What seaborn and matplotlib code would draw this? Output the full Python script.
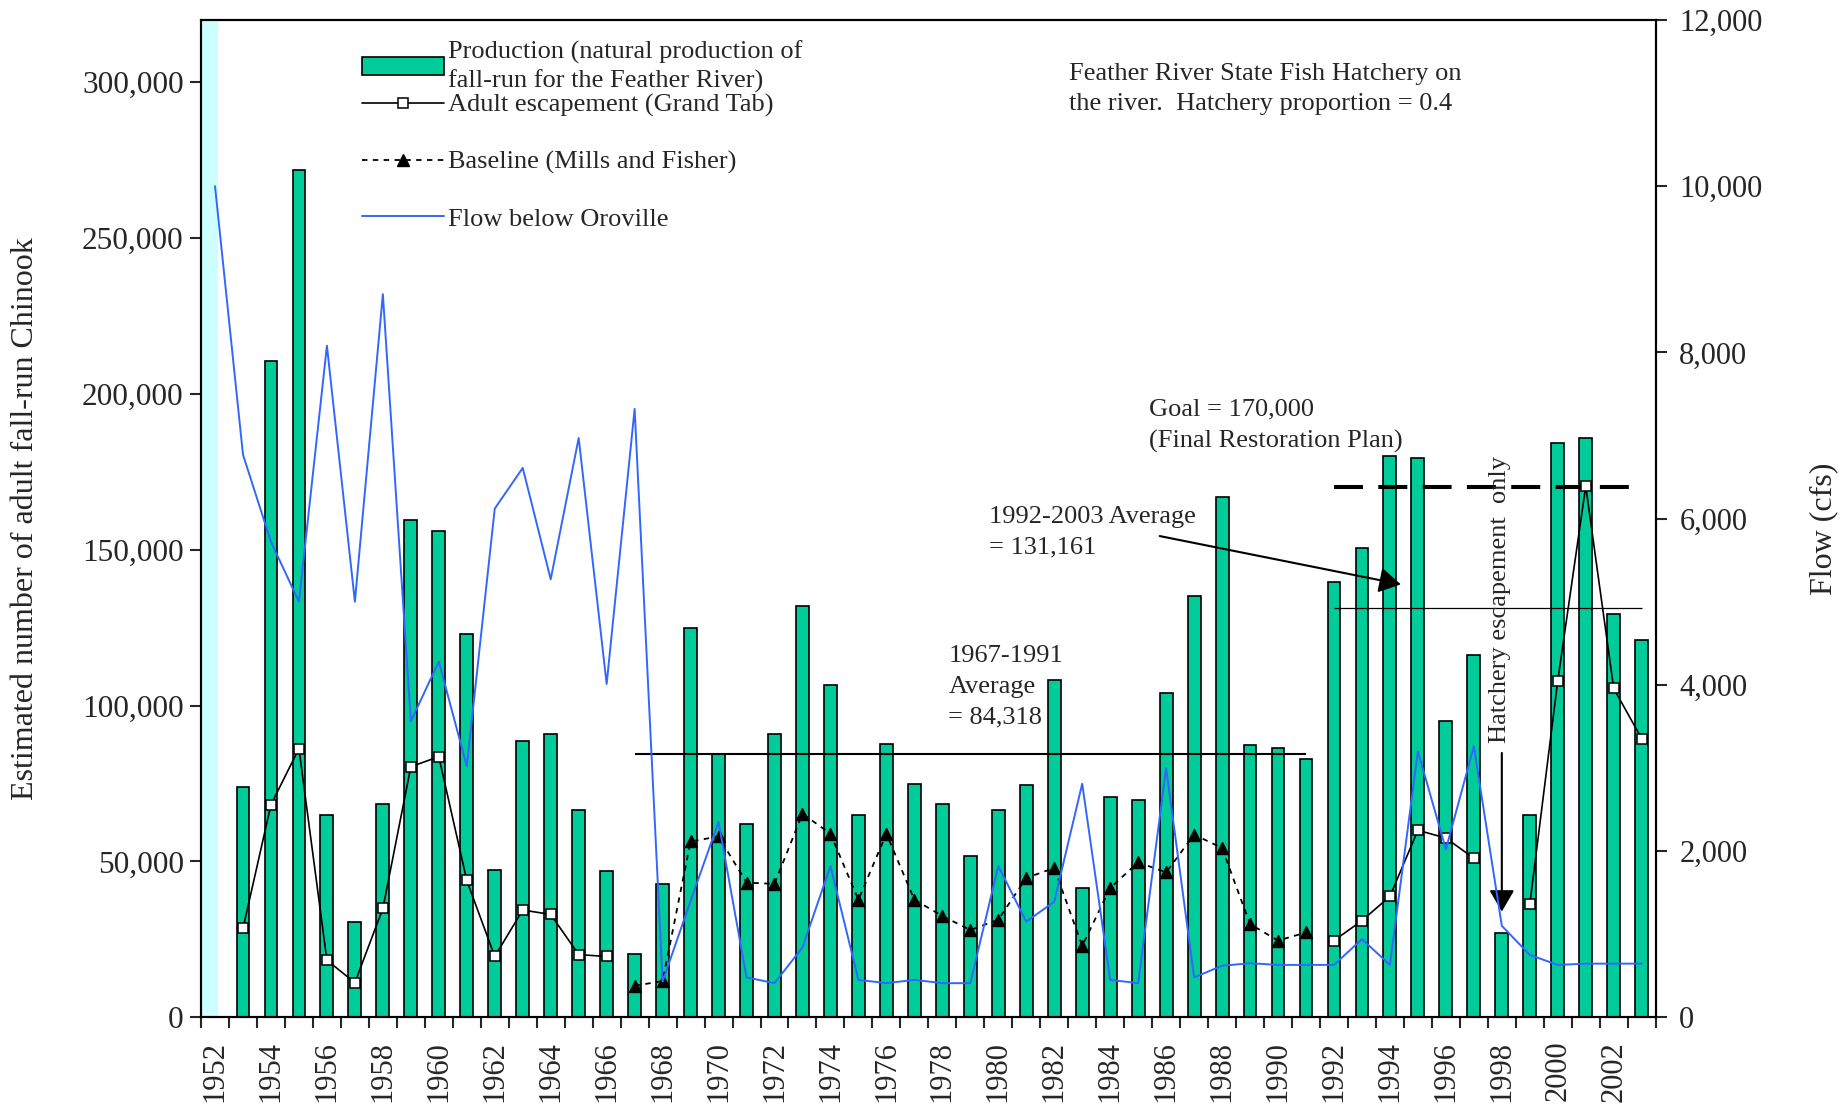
import numpy as np
import pandas as pd
import matplotlib
matplotlib.use('Agg')
import matplotlib.pyplot as plt
import seaborn as sns
from matplotlib.ticker import FuncFormatter

# Data
years = list(range(1952, 2004))
nan = np.nan

production = [nan, 73800, 210500, 272000, 64800, 30600, 68500, 159600, 155900, 123000,
              47300, 88600, 91000, 66600, 46800, 20300, 42800, 125000, 84500, 62100,
              91000, 132000, 106500, 64800, 87800, 75000, 68500, 51800, 66600, 74400,
              108300, 41600, 70600, 69800, 103900, 135300, 166900, 87200, 86500, 82800,
              139800, 150700, 180100, 179500, 94900, 116100, 26900, 64800, 184100, 186000,
              129500, 121200]

escapement = [nan, 28500, 68200, 86200, 18300, 11100, 34900, 80400, 83600, 43900,
              19500, 34400, 33000, 20100, 19500] + [nan] * 25 + \
             [24600, 31000, 38800, 60000, 57500, 51000, nan, 36200, 108000, 170400,
              105500, 89400]

baseline = [nan] * 15 + \
           [10100, 11600, 56400, 58000, 43200, 42800, 65300, 58900, 37700, 58900,
            37700, 32500, 28000, 31300, 44700, 47900, 22900, 41500, 49700, 46500,
            58600, 54300, 29900, 24600, 27200] + [nan] * 12

flow = [10000, 6770, 5720, 5000, 8080, 5000, 8700, 3560, 4280, 3020,
        6120, 6610, 5270, 6970, 4010, 7320, 430, 1400, 2350, 480,
        410, 840, 1820, 450, 410, 450, 410, 410, 1820, 1150,
        1390, 2810, 450, 410, 3000, 480, 620, 650, 630, 630,
        630, 940, 630, 3200, 2020, 3260, 1100, 750, 630, 645,
        645, 645]

avg_1967_1991 = 84318
avg_1992_2003 = 131161
goal = 170000

df = pd.DataFrame({'year': years, 'production': production})
idx = np.arange(len(years))
i1967 = years.index(1967)
i1991 = years.index(1991)
i1992 = years.index(1992)
i2003 = years.index(2003)

sns.set_style('ticks')
plt.rcParams['font.family'] = ['Liberation Serif', 'DejaVu Serif']

fig = plt.figure(figsize=(18.46, 11.08), dpi=100)
ax = fig.add_axes([0.1089, 0.0819, 0.7880, 0.9001])

# light band at the first category
ax.axvspan(-0.5, 0.1, color='#ccffff', lw=0, zorder=0)

sns.barplot(data=df, x='year', y='production', order=years, color='#00cc99',
            saturation=1, edgecolor='black', linewidth=1.2, width=0.46,
            errorbar=None, ax=ax, zorder=2)

esc_line, = ax.plot(idx, escapement, color='black', lw=1.2, marker='s', ms=7.5,
                    mfc='white', mec='black', mew=1.1, zorder=4)
base_line, = ax.plot(idx, baseline, color='black', lw=1.3, ls=(0, (3, 3)),
                     marker='^', ms=9, mfc='black', mec='black', zorder=4)

# average and goal lines
ax.hlines(avg_1967_1991, i1967, i1991, color='black', lw=1.5, zorder=3)
ax.hlines(avg_1992_2003, i1992, i2003, color='black', lw=0.9, zorder=3)
ax.hlines(goal, i1992, i2003, color='black', lw=2.9, ls=(0, (7.2, 3.8)), zorder=3)

ax.set_xlim(-0.5, len(years) - 0.5)
ax.set_ylim(0, 320000)
ax.set_yticks(np.arange(0, 300001, 50000))
ax.yaxis.set_major_formatter(FuncFormatter(lambda v, p: f'{v:,.0f}'))
ax.set_xticks(np.arange(-0.5, len(years), 1))
ax.set_xticklabels([])
ax.set_xticks(idx[::2], minor=True)
ax.set_xticklabels([str(y) for y in years[::2]], minor=True, rotation=90)
ax.tick_params(axis='x', which='major', length=8, width=1.5, direction='out')
ax.tick_params(axis='x', which='minor', length=0, pad=17, labelsize=22)
ax.tick_params(axis='y', length=8, width=1.5, pad=4.5, labelsize=22.5)
ax.set_xlabel('')
ax.set_ylabel('Estimated number of adult fall-run Chinook', fontsize=23)
ax.yaxis.set_label_coords(-0.111, 0.5)
for s in ax.spines.values():
    s.set_linewidth(1.5)
    s.set_color('black')

# flow on secondary axis
ax2 = ax.twinx()
flow_line, = ax2.plot(idx, flow, color='#3366ff', lw=1.4, zorder=5)
ax2.set_ylim(0, 12000)
ax2.set_yticks(np.arange(0, 12001, 2000))
ax2.yaxis.set_major_formatter(FuncFormatter(lambda v, p: f'{v:,.0f}'))
ax2.tick_params(axis='y', length=8, width=1.5, pad=9, labelsize=22)
ax2.set_ylabel('Flow (cfs)', fontsize=23, rotation=90)
ax2.yaxis.set_label_coords(1.1057, 0.49)
for s in ax2.spines.values():
    s.set_linewidth(1.5)
    s.set_color('black')

# annotations
note = dict(transform=ax.transAxes, ha='left', va='center', fontsize=19, linespacing=1.5)
ax.text(0.5967, 0.9308, 'Feather River State Fish Hatchery on\nthe river.  Hatchery proportion = 0.4', **note)
ax.text(0.6517, 0.593, 'Goal = 170,000\n(Final Restoration Plan)', **note)
ax.text(0.5417, 0.4861, '1992-2003 Average\n= 131,161', **note)
ax.text(0.5137, 0.3315, '1967-1991\nAverage\n= 84,318', **note)
ax.text(0.893, 0.275, 'Hatchery escapement  only', transform=ax.transAxes,
        ha='center', va='bottom', rotation=90, fontsize=19)

arrow = dict(arrowstyle='-|>,head_length=0.6,head_width=0.35', color='black',
             lw=1.5, mutation_scale=22, shrinkA=0, shrinkB=0)
ax.annotate('', xy=(42.39, 138900), xytext=(33.77, 154400), arrowprops=arrow, zorder=6)
ax.annotate('', xy=(46, 33900), xytext=(46, 84800), arrowprops=arrow, zorder=6)

# legends
bars = ax.containers[0]
leg1 = ax2.legend([bars, esc_line],
                  ['Production (natural production of\nfall-run for the Feather River)',
                   'Adult escapement (Grand Tab)'],
                  loc='upper left', bbox_to_anchor=(0.111, 0.9796), frameon=False,
                  fontsize=19, handlelength=3.1, handletextpad=0.15, labelspacing=0,
                  borderpad=0, borderaxespad=0)
leg1.get_texts()[0].set_linespacing(1.35)
ax2.add_artist(leg1)
ax2.legend([base_line, flow_line],
           ['Baseline (Mills and Fisher)', 'Flow below Oroville'],
           loc='upper left', bbox_to_anchor=(0.111, 0.869), frameon=False,
           fontsize=19, handlelength=3.1, handletextpad=0.15, labelspacing=1.24,
           borderpad=0, borderaxespad=0)

fig.savefig('out.png', dpi=100)
